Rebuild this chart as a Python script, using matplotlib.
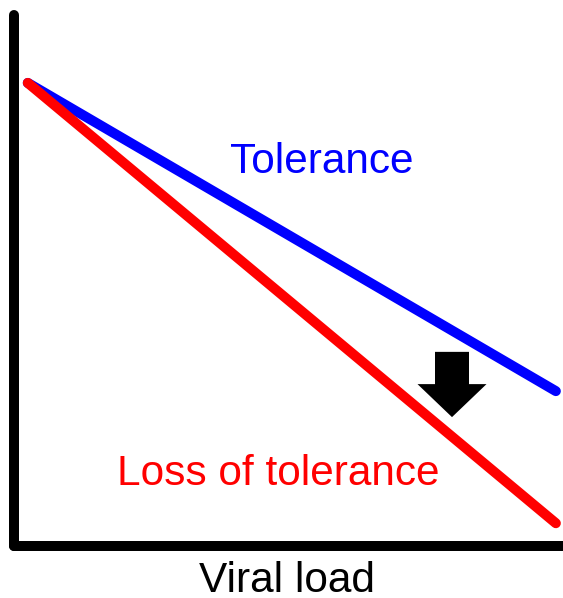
import matplotlib
matplotlib.use("Agg")
import matplotlib.pyplot as plt
from matplotlib.patches import FancyArrow

plt.rcParams['font.family'] = ['Liberation Sans', 'DejaVu Sans']

# schematic values (axes scaled 0-100)
viral_load = [2.6, 98.7]
tolerance = [87.2, 29.1]
loss_of_tolerance = [87.2, 4.2]

arrow_x = 79.8
arrow_top = 36.5
arrow_tip = 24.2

W, H = 563, 598
fig = plt.figure(figsize=(W / 100, H / 100), dpi=100)

# axes box in pixels: left spine at x=13.5, bottom spine at y=545.5
x0, x1, y_bot, y_top = 13.5, 563, 545.5, 15
ax = fig.add_axes([x0 / W, 1 - y_bot / H, (x1 - x0) / W, (y_bot - y_top) / H])
ax.set_xlim(0, 100)
ax.set_ylim(0, 100)

lw = 7.2
ax.plot(viral_load, tolerance, color='#0000ff', lw=lw, solid_capstyle='round', clip_on=False)
ax.plot(viral_load, loss_of_tolerance, color='#ff0000', lw=lw, solid_capstyle='round', clip_on=False)

px_x = (x1 - x0) / 100
px_y = (y_bot - y_top) / 100
head_len = 33 / px_y
ax.add_patch(FancyArrow(arrow_x, arrow_top, 0, -(arrow_top - arrow_tip),
                        width=34 / px_x, head_width=69 / px_x, head_length=head_len,
                        length_includes_head=True, color='black', lw=0))

fs = 30.5
ax.text(56.1, 70.2, "Tolerance", color='#0000ff', fontsize=fs, ha='center', va='baseline')
ax.text(48.1, 11.4, "Loss of tolerance", color='#ff0000', fontsize=fs, ha='center', va='baseline')

fig.text(287 / W, 1 - 592 / H, "Viral load", color='black', fontsize=fs, ha='center', va='baseline')

for side in ['top', 'right']:
    ax.spines[side].set_visible(False)
for side in ['left', 'bottom']:
    ax.spines[side].set_linewidth(lw)
    ax.spines[side].set_capstyle('round')
ax.set_xticks([])
ax.set_yticks([])

fig.savefig("out.png", dpi=100)
